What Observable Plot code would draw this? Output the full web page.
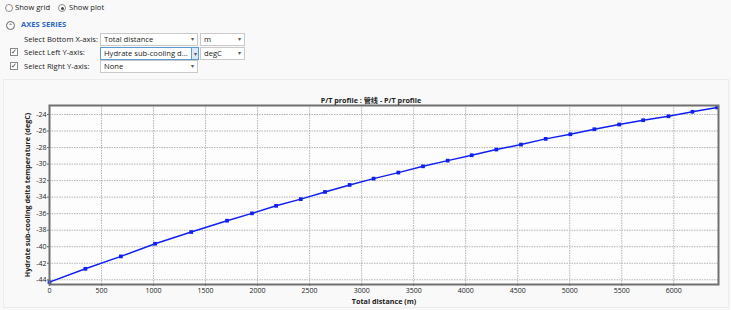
<!DOCTYPE html>
<html><head><meta charset="utf-8">
<script src="https://cdn.jsdelivr.net/npm/d3@7"></script>
<script src="https://cdn.jsdelivr.net/npm/@observablehq/plot@0.6"></script>
<style>
body{margin:0;width:731px;height:310px;background:#f9f9f9;font-family:"Open Sans","Noto Sans",sans-serif;position:relative;overflow:hidden;color:#1a1a1a;font-size:7.6px}
.a{position:absolute;white-space:nowrap;line-height:1}
.radio{width:6px;height:6px;border:1px solid #8a8a8a;border-radius:50%;background:#fff}
.radio.on::after{content:"";position:absolute;left:1.5px;top:1.5px;width:3px;height:3px;border-radius:50%;background:#444}
.chk{width:6px;height:6px;border:1px solid #8a8a8a;background:#fff;font-size:7px;line-height:6px;text-align:center;color:#333}
.sel{background:#fff;border:1px solid #c9c9c9;box-sizing:border-box;height:13px;padding-left:3px;line-height:11px;font-size:7.6px}
.sel .arr{position:absolute;right:3px;top:0;font-size:6px;color:#555}
.chev{width:9px;height:9px;border:1px solid #666;border-radius:50%;box-sizing:border-box;font-size:6px;text-align:center;line-height:9px;color:#333}
#panel{position:absolute;left:3px;top:79px;width:724px;height:227px;border:1px solid #ececec;background:#f9f9f9}
#chart{position:absolute;left:0;top:88px}
</style></head>
<body>
<div class="a radio" style="left:5px;top:4px"></div>
<div class="a" style="left:15px;top:4px">Show grid</div>
<div class="a radio on" style="left:58px;top:4px"></div>
<div class="a" style="left:69px;top:4px">Show plot</div>
<div class="a chev" style="left:6px;top:21px">&#8963;</div>
<div class="a" style="left:21px;top:21px;color:#2f66c4;font-weight:bold">AXES SERIES</div>

<div class="a" style="left:24px;top:36px">Select Bottom X-axis:</div>
<div class="a sel" style="left:100px;top:33px;width:98px">Total distance<span class="arr">&#9662;</span></div>
<div class="a sel" style="left:200px;top:33px;width:45px">m<span class="arr">&#9662;</span></div>

<div class="a chk" style="left:10px;top:48px">&#10003;</div>
<div class="a" style="left:24px;top:49px">Select Left Y-axis:</div>
<div class="a sel" style="left:100px;top:47px;width:92px;border-color:#5b9bd5">Hydrate sub-cooling d...</div>
<div class="a sel" style="left:191px;top:47px;width:8px;padding:0;background:#dce9f6;border-color:#5b9bd5;text-align:center"><span style="font-size:6px;color:#555">&#9662;</span></div>
<div class="a sel" style="left:200px;top:47px;width:45px">degC<span class="arr">&#9662;</span></div>

<div class="a chk" style="left:10px;top:62px">&#10003;</div>
<div class="a" style="left:24px;top:63px">Select Right Y-axis:</div>
<div class="a sel" style="left:100px;top:60px;width:98px">None<span class="arr">&#9662;</span></div>

<div id="panel"></div>
<div id="chart"></div>
<script>
const distance = [0, 345, 686, 1015, 1362, 1706, 1946, 2178, 2415, 2648, 2885, 3115, 3353, 3590, 3827, 4058, 4295, 4532, 4769, 5006, 5237, 5475, 5706, 5949, 6180, 6417];
const subcooling = [-44.28, -42.67, -41.17, -39.64, -38.22, -36.85, -35.96, -35.05, -34.24, -33.37, -32.52, -31.76, -31.03, -30.27, -29.58, -28.93, -28.24, -27.64, -26.95, -26.39, -25.78, -25.21, -24.69, -24.21, -23.67, -23.15];
const xTicks = [0, 500, 1000, 1500, 2000, 2500, 3000, 3500, 4000, 4500, 5000, 5500, 6000];
const yTicks = [-44, -42, -40, -38, -36, -34, -32, -30, -28, -26, -24];
const title = "P/T profile : 管线 - P/T profile";
const xLabel = "Total distance (m)";
const yLabel = "Hydrate sub-cooling delta temperature (degC)";

const data = distance.map((d, i) => ({d, v: subcooling[i]}));
const blue = "#1020f0";
const font = '"Open Sans","Noto Sans","Noto Sans CJK SC",sans-serif';

const chart = Plot.plot({
  width: 731, height: 222,
  marginLeft: 49, marginRight: 13, marginTop: 17, marginBottom: 26,
  style: {fontFamily: font, fontSize: "7px", background: "transparent", color: "#222"},
  x: {domain: [0, 6430]},
  y: {domain: [-44.57, -22.91]},
  marks: [
    Plot.frame({fill: "#fdfdfd"}),
    Plot.gridX(xTicks, {stroke: "#b5b5b5", strokeOpacity: 1, strokeDasharray: "1.5,1"}),
    Plot.gridY(yTicks, {stroke: "#b5b5b5", strokeOpacity: 1, strokeDasharray: "1.5,1"}),
    Plot.axisX(xTicks, {tickSize: 2, tickPadding: 2, tickFormat: d => String(d), label: null, stroke: "#666"}),
    Plot.axisY(yTicks, {tickSize: 2, tickPadding: 1, tickFormat: d => String(d), label: null, stroke: "#666"}),
    Plot.line(data, {x: "d", y: "v", stroke: blue, strokeWidth: 1.5}),
    Plot.dot(data, {x: "d", y: "v", r: 2.1, fill: blue, symbol: "square"}),
    Plot.frame({stroke: "#707070", strokeWidth: 2}),
    Plot.text([title], {frameAnchor: "top", dy: -8, dx: -13, fontWeight: "bold", fontSize: 7.2}),
    Plot.text([xLabel], {frameAnchor: "bottom", dy: 19, fontWeight: "bold", fontSize: 7.2}),
    Plot.text([yLabel], {frameAnchor: "left", textAnchor: "middle", dx: -22, rotate: -90, fontWeight: "bold", fontSize: 7.2})
  ]
});
document.getElementById("chart").appendChild(chart);
</script>
</body></html>
